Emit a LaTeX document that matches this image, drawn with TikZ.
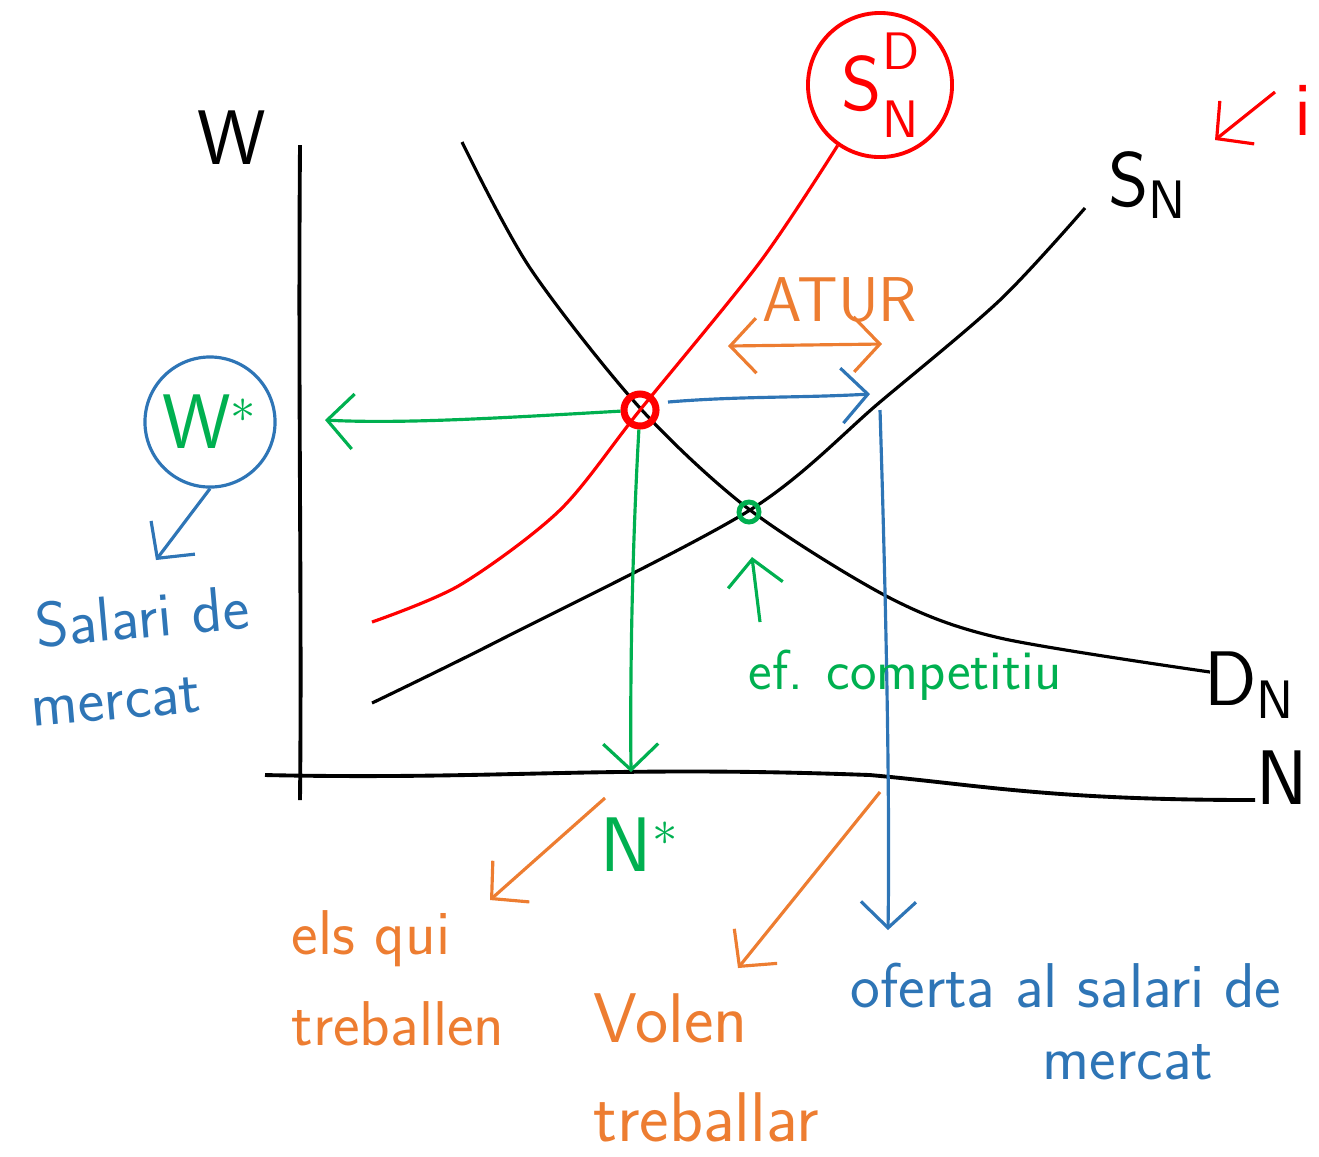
\documentclass[tikz,border=0pt]{standalone}
\usepackage{fontspec}
\usetikzlibrary{arrows.meta}
\definecolor{penred}{RGB}{255,0,0}
\definecolor{pengreen}{RGB}{0,176,80}
\definecolor{penblue}{RGB}{46,117,182}
\definecolor{penorange}{RGB}{237,125,49}
\tikzset{
  axisline/.style={black,line width=1.1pt},
  curveline/.style={line width=0.9pt},
  penarrow/.style={line width=0.9pt,-{Straight Barb[length=2.6mm,width=5.5mm]}},
  note/.style={font=\sffamily\fontsize{18}{26}\selectfont,align=left,inner sep=1pt},
  biglabel/.style={font=\sffamily\fontsize{22}{24}\selectfont,inner sep=1pt},
}
\newcommand{\smallidx}{\fontsize{15}{15}\selectfont}
\begin{document}
\begin{tikzpicture}[x=0.01cm,y=-0.01cm]
        \useasboundingbox (0,0) rectangle (1319,1156);
        % axes
        \draw[axisline] (300,145) .. controls (298,400) and (302,600) .. (300,800);
        \draw[axisline] (265,775) .. controls (500,780) and (600,765) .. (870,775)
                        .. controls (980,785) and (1050,800) .. (1255,800);
        \node[biglabel] (wlab) at (232,138) {W};
        \node[biglabel] (nlab) at (1282,778) {N};
        % curves
        \draw[curveline,black] plot[smooth] coordinates {(462,142) (530,268) (640,408) (750,510) (890,598) (1000,638) (1210,672)};
        \node[biglabel] (dlab) at (1250,685) {D\textsubscript{N}};
        \draw[curveline,black] plot[smooth] coordinates {(372,703) (500,640) (750,510) (880,402) (1000,300) (1085,208)};
        \node[biglabel] (slab) at (1148,185) {S\textsubscript{N}};
        \node[draw=penred,text=penred,circle,line width=1.1pt,minimum size=1.44cm,inner sep=0pt,biglabel] (sdn) at (880,85)
             {S\rlap{\raisebox{1.25ex}{\smallidx D}}\raisebox{-0.8ex}{\smallidx N}};
        \draw[curveline,penred] plot[smooth] coordinates {(372,622) (460,585) (560,510) (640,410) (760,262) (sdn.235)};
        % interest rate
        \node[biglabel,penred] (ilab) at (1303,110) {i};
        \coordinate (itip) at (1215,140);
        \draw[penarrow,penred] (1275,92) -- (itip);
        % equilibria
        \node[circle,draw=penred,line width=2pt,minimum size=0.32cm,inner sep=0pt] (eq) at (640,410) {};
        \node[circle,draw=pengreen,line width=1.4pt,minimum size=0.2cm,inner sep=0pt] (comp) at (749,512) {};
        % wage
        \node[draw=penblue,circle,line width=0.9pt,minimum size=1.3cm,biglabel,text=pengreen] (wstar) at (210,422) {W$^\ast$};
        \coordinate (wend) at (325,420);
        \draw[penarrow,pengreen] (eq) .. controls (500,418) and (400,424) .. (wend);
        \node[note,penblue,rotate=5] (salari) at (142,616) {Salari de};
        \node[note,penblue,rotate=5] (mercat1) at (116,702) {mercat};
        \draw[penarrow,penblue] (wstar.south) -- (156,560);
        % employment
        \coordinate (nend) at (631,772);
        \draw[penarrow,pengreen] (eq) .. controls (632,550) and (630,680) .. (nend);
        \node[biglabel,pengreen] (nstar) at (640,845) {N$^\ast$};
        % unemployment
        \coordinate (bstart) at (668,402);
        \coordinate (bend) at (870,394);
        \draw[penarrow,penblue] (bstart) .. controls (740,396) and (800,398) .. (bend);
        \coordinate (aleft) at (728,346);
        \coordinate (aright) at (882,344);
        \draw[line width=0.9pt,penorange,{Straight Barb[length=2.6mm,width=5.5mm]}-{Straight Barb[length=2.6mm,width=5.5mm]}] (aleft) -- (aright);
        \node[note,penorange] (atur) at (840,300) {ATUR};
        % labour supply at market wage
        \coordinate (otop) at (880,410);
        \node[note,penblue] (oferta) at (1066,985) {oferta al salari de};
        \node[note,penblue] (mercat2) at (1128,1062) {mercat};
        \draw[penarrow,penblue] (otop) .. controls (886,600) and (890,800) .. (888,930);
        % competitive effect
        \node[note,pengreen,font=\sffamily\fontsize{16}{20}\selectfont] (efc) at (905,675) {ef. competitiu};
        \coordinate (ctip) at (752,557);
        \draw[penarrow,pengreen] (760,622) -- (ctip);
        % workers
        \node[note,penorange] (treb) at (398,978) {els qui\\treballen};
        \draw[penarrow,penorange] (605,798) -- (490,900);
        \node[note,penorange,font=\sffamily\fontsize{20}{28}\selectfont] (volen) at (706,1068) {Volen\\treballar};
        \draw[penarrow,penorange] (880,792) -- (738,968);
\end{tikzpicture}
\end{document}
